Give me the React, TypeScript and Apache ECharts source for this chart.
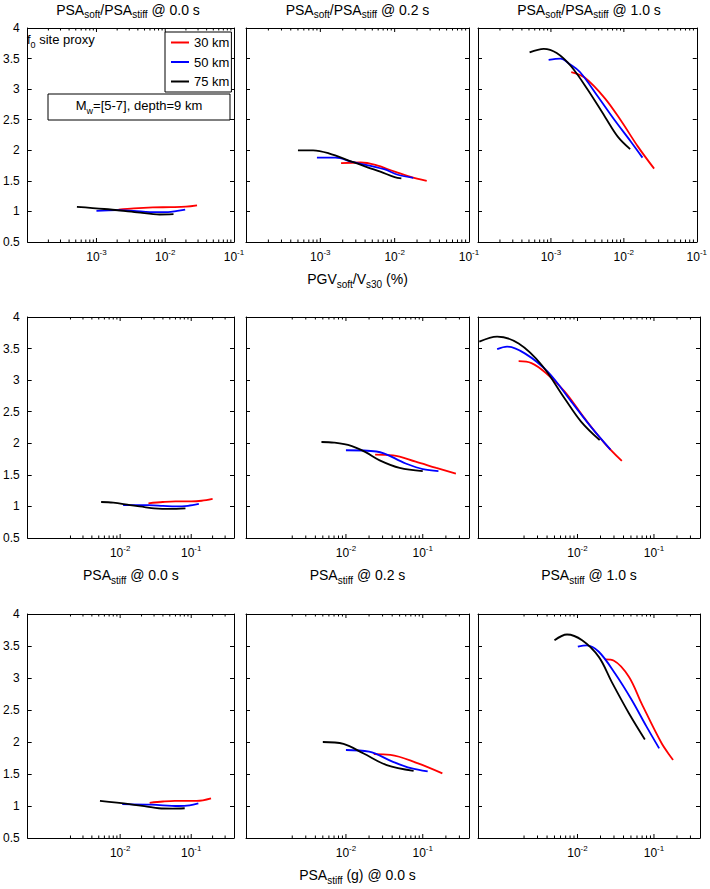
import React, { useEffect, useRef } from "react";
import * as echarts from "echarts";

const FONT = '"Liberation Sans", Arial, Helvetica, sans-serif';

// ---------- labels ----------
const distanceLabels = ["30 km", "50 km", "75 km"];
const lineColors = ["#ff0000", "#0000ff", "#000000"];
const periodLabels = ["0.0 s", "0.2 s", "1.0 s"];

// ---------- axes ----------
const yMin = 0.5;
const yMax = 4;
const yStep = 0.5;
const xRangeRow1 = [1e-4, 1e-1];
const xRangeRows23 = [5e-4, 0.4];
const labelledExpRow1 = [-3, -2, -1];
const labelledExpRows23 = [-2, -1];
const majorTicksRow1 = [1e-3, 1e-2];
const majorTicksRows23 = [1e-2, 1e-1];
const minorMantissas = [2, 3, 4, 5, 6, 7, 8, 9];
const minorDecadesRow1 = [1e-4, 1e-3, 1e-2];
const minorDecadesRows23 = [1e-3, 1e-2, 1e-1];

// ---------- data: row 1, x = PGV_soft / Vs30 (%) ----------
const r1c1_30 = [[2.1e-3, 1.03], [3.5e-3, 1.05], [6.6e-3, 1.065], [1.2e-2, 1.07], [2e-2, 1.078], [2.9e-2, 1.1]];
const r1c1_50 = [[1e-3, 1.01], [2e-3, 1.02], [3.5e-3, 1.01], [6e-3, 0.99], [1.1e-2, 0.99], [1.5e-2, 1.01], [1.95e-2, 1.03]];
const r1c1_75 = [[5.2e-4, 1.075], [1.3e-3, 1.04], [3.9e-3, 0.985], [8.3e-3, 0.95], [1.32e-2, 0.955]];

const r1c2_30 = [[1.9e-3, 1.79], [3.5e-3, 1.8], [5.5e-3, 1.76], [1e-2, 1.65], [1.6e-2, 1.57], [2.7e-2, 1.5]];
const r1c2_50 = [[9e-4, 1.88], [1.6e-3, 1.88], [2.7e-3, 1.81], [7.2e-3, 1.69], [1.1e-2, 1.6], [1.78e-2, 1.55]];
const r1c2_75 = [[5e-4, 2.0], [8e-4, 2.0], [1.3e-3, 1.95], [2.7e-3, 1.81], [6.4e-3, 1.65], [1e-2, 1.56], [1.23e-2, 1.54]];

const r1c3_30 = [[1.9e-3, 3.28], [2.9e-3, 3.19], [5.5e-3, 2.85], [9.3e-3, 2.47], [1.56e-2, 2.06], [2.6e-2, 1.7]];
const r1c3_50 = [[9.3e-4, 3.48], [1.35e-3, 3.5], [1.8e-3, 3.41], [2.5e-3, 3.28], [4.4e-3, 2.88], [7.5e-3, 2.49], [1.25e-2, 2.14], [1.8e-2, 1.88]];
const r1c3_75 = [[5.1e-4, 3.6], [8e-4, 3.66], [1.2e-3, 3.59], [1.9e-3, 3.37], [3.2e-3, 2.99], [5.5e-3, 2.55], [8.3e-3, 2.22], [1.22e-2, 2.02]];

// ---------- data: row 2, x = PSA_stiff (g) at the same period ----------
const r2c1_30 = [[2.5e-2, 1.05], [4e-2, 1.07], [6e-2, 1.08], [1e-1, 1.08], [1.4e-1, 1.09], [2e-1, 1.12]];
const r2c1_50 = [[1.1e-2, 1.02], [2.5e-2, 1.02], [4e-2, 1.01], [6e-2, 1.0], [9e-2, 1.01], [1.28e-1, 1.04]];
const r2c1_75 = [[5.4e-3, 1.07], [8e-3, 1.06], [1.38e-2, 1.02], [2.2e-2, 0.99], [3e-2, 0.97], [5e-2, 0.96], [8.3e-2, 0.97]];

const r2c2_30 = [[2.4e-2, 1.82], [4.1e-2, 1.81], [8.1e-2, 1.71], [1.5e-1, 1.61], [2.7e-1, 1.52]];
const r2c2_50 = [[1e-2, 1.89], [2.5e-2, 1.87], [6e-2, 1.68], [1e-1, 1.59], [1.6e-1, 1.56]];
const r2c2_75 = [[4.8e-3, 2.02], [7e-3, 2.01], [1.17e-2, 1.96], [1.8e-2, 1.86], [2.75e-2, 1.73], [5e-2, 1.61], [1e-1, 1.56]];

const r2c3_30 = [[1.7e-3, 3.3], [2.5e-3, 3.27], [3.8e-3, 3.12], [6.8e-3, 2.82], [1.25e-2, 2.39], [2.27e-2, 2.0], [3.8e-2, 1.72]];
const r2c3_50 = [[8.9e-4, 3.49], [1.2e-3, 3.53], [2.07e-3, 3.42], [4.1e-3, 3.13], [8.3e-3, 2.66], [1.5e-2, 2.26], [2.7e-2, 1.9]];
const r2c3_75 = [[5.2e-4, 3.61], [8.9e-4, 3.69], [1.7e-3, 3.58], [3.4e-3, 3.24], [6.8e-3, 2.71], [1.12e-2, 2.34], [1.95e-2, 2.05]];

// ---------- data: row 3, x = PSA_stiff (g) @ 0.0 s ----------
const r3c1_30 = [[2.6e-2, 1.05], [4e-2, 1.07], [5.9e-2, 1.08], [1.2e-1, 1.08], [1.9e-1, 1.12]];
const r3c1_50 = [[1.07e-2, 1.03], [2.8e-2, 1.02], [6.6e-2, 1.0], [9.5e-2, 1.01], [1.26e-1, 1.04]];
const r3c1_75 = [[5.2e-3, 1.08], [1.35e-2, 1.03], [2.4e-2, 0.99], [3.5e-2, 0.965], [5.5e-2, 0.96], [8.1e-2, 0.965]];

const r3c2_30 = [[2.3e-2, 1.81], [3.8e-2, 1.8], [8.5e-2, 1.67], [1.8e-1, 1.51]];
const r3c2_50 = [[1e-2, 1.875], [2e-2, 1.85], [4.1e-2, 1.69], [7e-2, 1.59], [1.16e-1, 1.54]];
const r3c2_75 = [[5e-3, 2.0], [9.3e-3, 1.97], [1.7e-2, 1.82], [3.4e-2, 1.64], [7.6e-2, 1.55]];

const r3c3_30 = [[2.3e-2, 3.29], [3e-2, 3.27], [4.7e-2, 3.02], [6.9e-2, 2.6], [1.26e-1, 1.98], [1.78e-1, 1.72]];
const r3c3_50 = [[1.01e-2, 3.49], [1.32e-2, 3.51], [1.9e-2, 3.41], [3.1e-2, 3.07], [5.1e-2, 2.66], [8e-2, 2.24], [1.17e-1, 1.9]];
const r3c3_75 = [[5e-3, 3.59], [7.3e-3, 3.68], [1.15e-2, 3.59], [1.9e-2, 3.33], [2.8e-2, 2.94], [4.7e-2, 2.45], [7.6e-2, 2.04]];

const panelData = [
  [r1c1_30, r1c1_50, r1c1_75], [r1c2_30, r1c2_50, r1c2_75], [r1c3_30, r1c3_50, r1c3_75],
  [r2c1_30, r2c1_50, r2c1_75], [r2c2_30, r2c2_50, r2c2_75], [r2c3_30, r2c3_50, r2c3_75],
  [r3c1_30, r3c1_50, r3c1_75], [r3c2_30, r3c2_50, r3c2_75], [r3c3_30, r3c3_50, r3c3_75],
];

// ---------- layout ----------
const colBoxes = [
  { left: 22, width: 212 },
  { left: 246, width: 223 },
  { left: 478, width: 222 },
];
const rowBoxes = [
  { top: 28, height: 214 },
  { top: 317, height: 221 },
  { top: 614, height: 224 },
];

const subRich = (size: number, subSize: number) => ({
  m: { fontSize: size, lineHeight: size + 3, verticalAlign: "top", fontFamily: FONT, color: "#000" },
  s: { fontSize: subSize, verticalAlign: "bottom", fontFamily: FONT, color: "#000" },
});
const subRichG = (size: number, subSize: number) => ({
  m: { fontSize: size, lineHeight: size + 3, verticalAlign: "top", fontFamily: FONT, fill: "#000" },
  s: { fontSize: subSize, verticalAlign: "bottom", fontFamily: FONT, fill: "#000" },
});

function xNameFor(row: number, col: number): string {
  if (row === 0 && col === 1) return "{m|PGV}{s|soft}{m|/V}{s|s30}{m| (%)}";
  if (row === 1) return `{m|PSA}{s|stiff}{m| @ ${periodLabels[col]}}`;
  if (row === 2 && col === 1) return "{m|PSA}{s|stiff}{m| (g) @ 0.0 s}";
  return "";
}

function powLabelFor(allowed: number[]) {
  return (v: number): string => {
    const e = Math.log10(v);
    const r = Math.round(e);
    if (Math.abs(e - r) > 1e-6 || allowed.indexOf(r) < 0) return "";
    return `{b|10}{p|${r}}`;
  };
}

function buildOption() {
  const grid: any[] = [];
  const xAxis: any[] = [];
  const yAxis: any[] = [];
  const series: any[] = [];
  const axisLine = { show: true, onZero: false, lineStyle: { color: "#000", width: 1 } };
  const axisTick = { show: true, inside: true, length: 4, lineStyle: { color: "#000", width: 1 } };

  for (let i = 0; i < 9; i++) {
    const row = Math.floor(i / 3);
    const col = i % 3;
    const range = row === 0 ? xRangeRow1 : xRangeRows23;
    grid.push({ left: colBoxes[col].left, width: colBoxes[col].width, top: rowBoxes[row].top, height: rowBoxes[row].height, show: false, containLabel: false });
    const name = xNameFor(row, col);
    xAxis.push({
      type: "log", gridIndex: i, min: range[0], max: range[1], position: "bottom",
      axisLine, axisTick: { show: false }, splitLine: { show: false },
      axisLabel: {
        show: true, margin: 6, formatter: powLabelFor(row === 0 ? labelledExpRow1 : labelledExpRows23),
        showMinLabel: false, showMaxLabel: row === 0,
        rich: {
          b: { fontSize: 12, lineHeight: 15, verticalAlign: "bottom", fontFamily: FONT, color: "#000" },
          p: { fontSize: 8, lineHeight: 9, verticalAlign: "top", fontFamily: FONT, color: "#000" },
        },
      },
      name, nameLocation: "middle", nameGap: 30,
      nameTextStyle: { fontSize: 14, fontFamily: FONT, color: "#000", rich: subRich(14, 10) },
    });
    xAxis.push({
      type: "log", gridIndex: i, min: range[0], max: range[1], position: "top",
      axisLine, axisTick: { show: false }, axisLabel: { show: false }, splitLine: { show: false },
    });
    yAxis.push({
      type: "value", gridIndex: i, min: yMin, max: yMax, interval: yStep, position: "left",
      axisLine, axisTick, splitLine: { show: false },
      axisLabel: { show: col === 0, fontSize: 12, fontFamily: FONT, color: "#000", margin: 8 },
    });
    yAxis.push({
      type: "value", gridIndex: i, min: yMin, max: yMax, interval: yStep, position: "right",
      axisLine, axisTick, splitLine: { show: false }, axisLabel: { show: false },
    });

    panelData[i].forEach((d, k) => {
      series.push({
        type: "line", name: distanceLabels[k], xAxisIndex: 2 * i, yAxisIndex: 2 * i,
        data: d, symbol: "none", showSymbol: false, smooth: 0.35, silent: true,
        color: lineColors[k], itemStyle: { color: lineColors[k] },
        lineStyle: { color: lineColors[k], width: 1.8 }, z: 3 + k,
      });
    });

    // x ticks (major + minor), placed through the log axis scale, on bottom and top
    const tickVals: number[][] = [];
    (row === 0 ? majorTicksRow1 : majorTicksRows23).forEach((v) => tickVals.push([v, 4]));
    (row === 0 ? minorDecadesRow1 : minorDecadesRows23).forEach((d) => minorMantissas.forEach((m) => {
      const v = m * d;
      if (v > range[0] * 1.0001 && v < range[1] * 0.9999) tickVals.push([v, 2.5]);
    }));
    series.push({
      type: "custom", name: "x ticks", xAxisIndex: 2 * i, yAxisIndex: 2 * i,
      silent: true, clip: false, z: 8, data: tickVals, encode: { x: 0 },
      renderItem: (_p: any, api: any) => {
        const v = api.value(0);
        const len = api.value(1);
        const b = api.coord([v, yMin]);
        const t = api.coord([v, yMax]);
        return {
          type: "group",
          children: [
            { type: "line", shape: { x1: b[0], y1: b[1], x2: b[0], y2: b[1] - len }, style: { stroke: "#000", lineWidth: 1 } },
            { type: "line", shape: { x1: t[0], y1: t[1], x2: t[0], y2: t[1] + len }, style: { stroke: "#000", lineWidth: 1 } },
          ],
        };
      },
    });
  }

  const graphic: any[] = [];
  for (let c = 0; c < 3; c++) {
    graphic.push({
      type: "text", x: colBoxes[c].left + colBoxes[c].width / 2, y: 11, z: 20,
      style: {
        text: `{m|PSA}{s|soft}{m|/PSA}{s|stiff}{m| @ ${periodLabels[c]}}`,
        align: "center", verticalAlign: "middle", rich: subRichG(14, 10),
      },
    });
  }
  graphic.push({
    type: "text", x: 27, y: 41, z: 20,
    style: { text: "{m|f}{s|0}{m| site proxy}", align: "left", verticalAlign: "middle", rich: subRichG(13, 9) },
  });
  graphic.push({
    type: "rect", z: 20, shape: { x: 48, y: 94, width: 182, height: 26 },
    style: { fill: "#fff", stroke: "#000", lineWidth: 1 },
  });
  graphic.push({
    type: "text", x: 139, y: 107, z: 21,
    style: { text: "{m|M}{s|w}{m|=[5-7], depth=9 km}", align: "center", verticalAlign: "middle", rich: subRichG(13, 9) },
  });

  return {
    animation: false,
    backgroundColor: "#fff",
    textStyle: { fontFamily: FONT },
    grid, xAxis, yAxis, series, graphic,
    legend: {
      data: distanceLabels, orient: "vertical", left: 165, top: 32,
      padding: [4, 2, 4, 6], itemGap: 6.5, itemWidth: 18, itemHeight: 2, icon: "rect",
      borderColor: "#000", borderWidth: 1, backgroundColor: "#fff", selectedMode: false,
      textStyle: { fontSize: 13, fontFamily: FONT, color: "#000" }, z: 20,
    },
  };
}

export default function App() {
  const ref = useRef<HTMLDivElement>(null);
  useEffect(() => {
    if (!ref.current) return;
    const chart = echarts.init(ref.current, null, { renderer: "svg" });
    chart.setOption(buildOption() as any);
    return () => chart.dispose();
  }, []);
  return (
    <div
      ref={ref}
      style={{ position: "absolute", left: 0, top: 0, width: 710, height: 889, background: "#fff" }}
    />
  );
}
